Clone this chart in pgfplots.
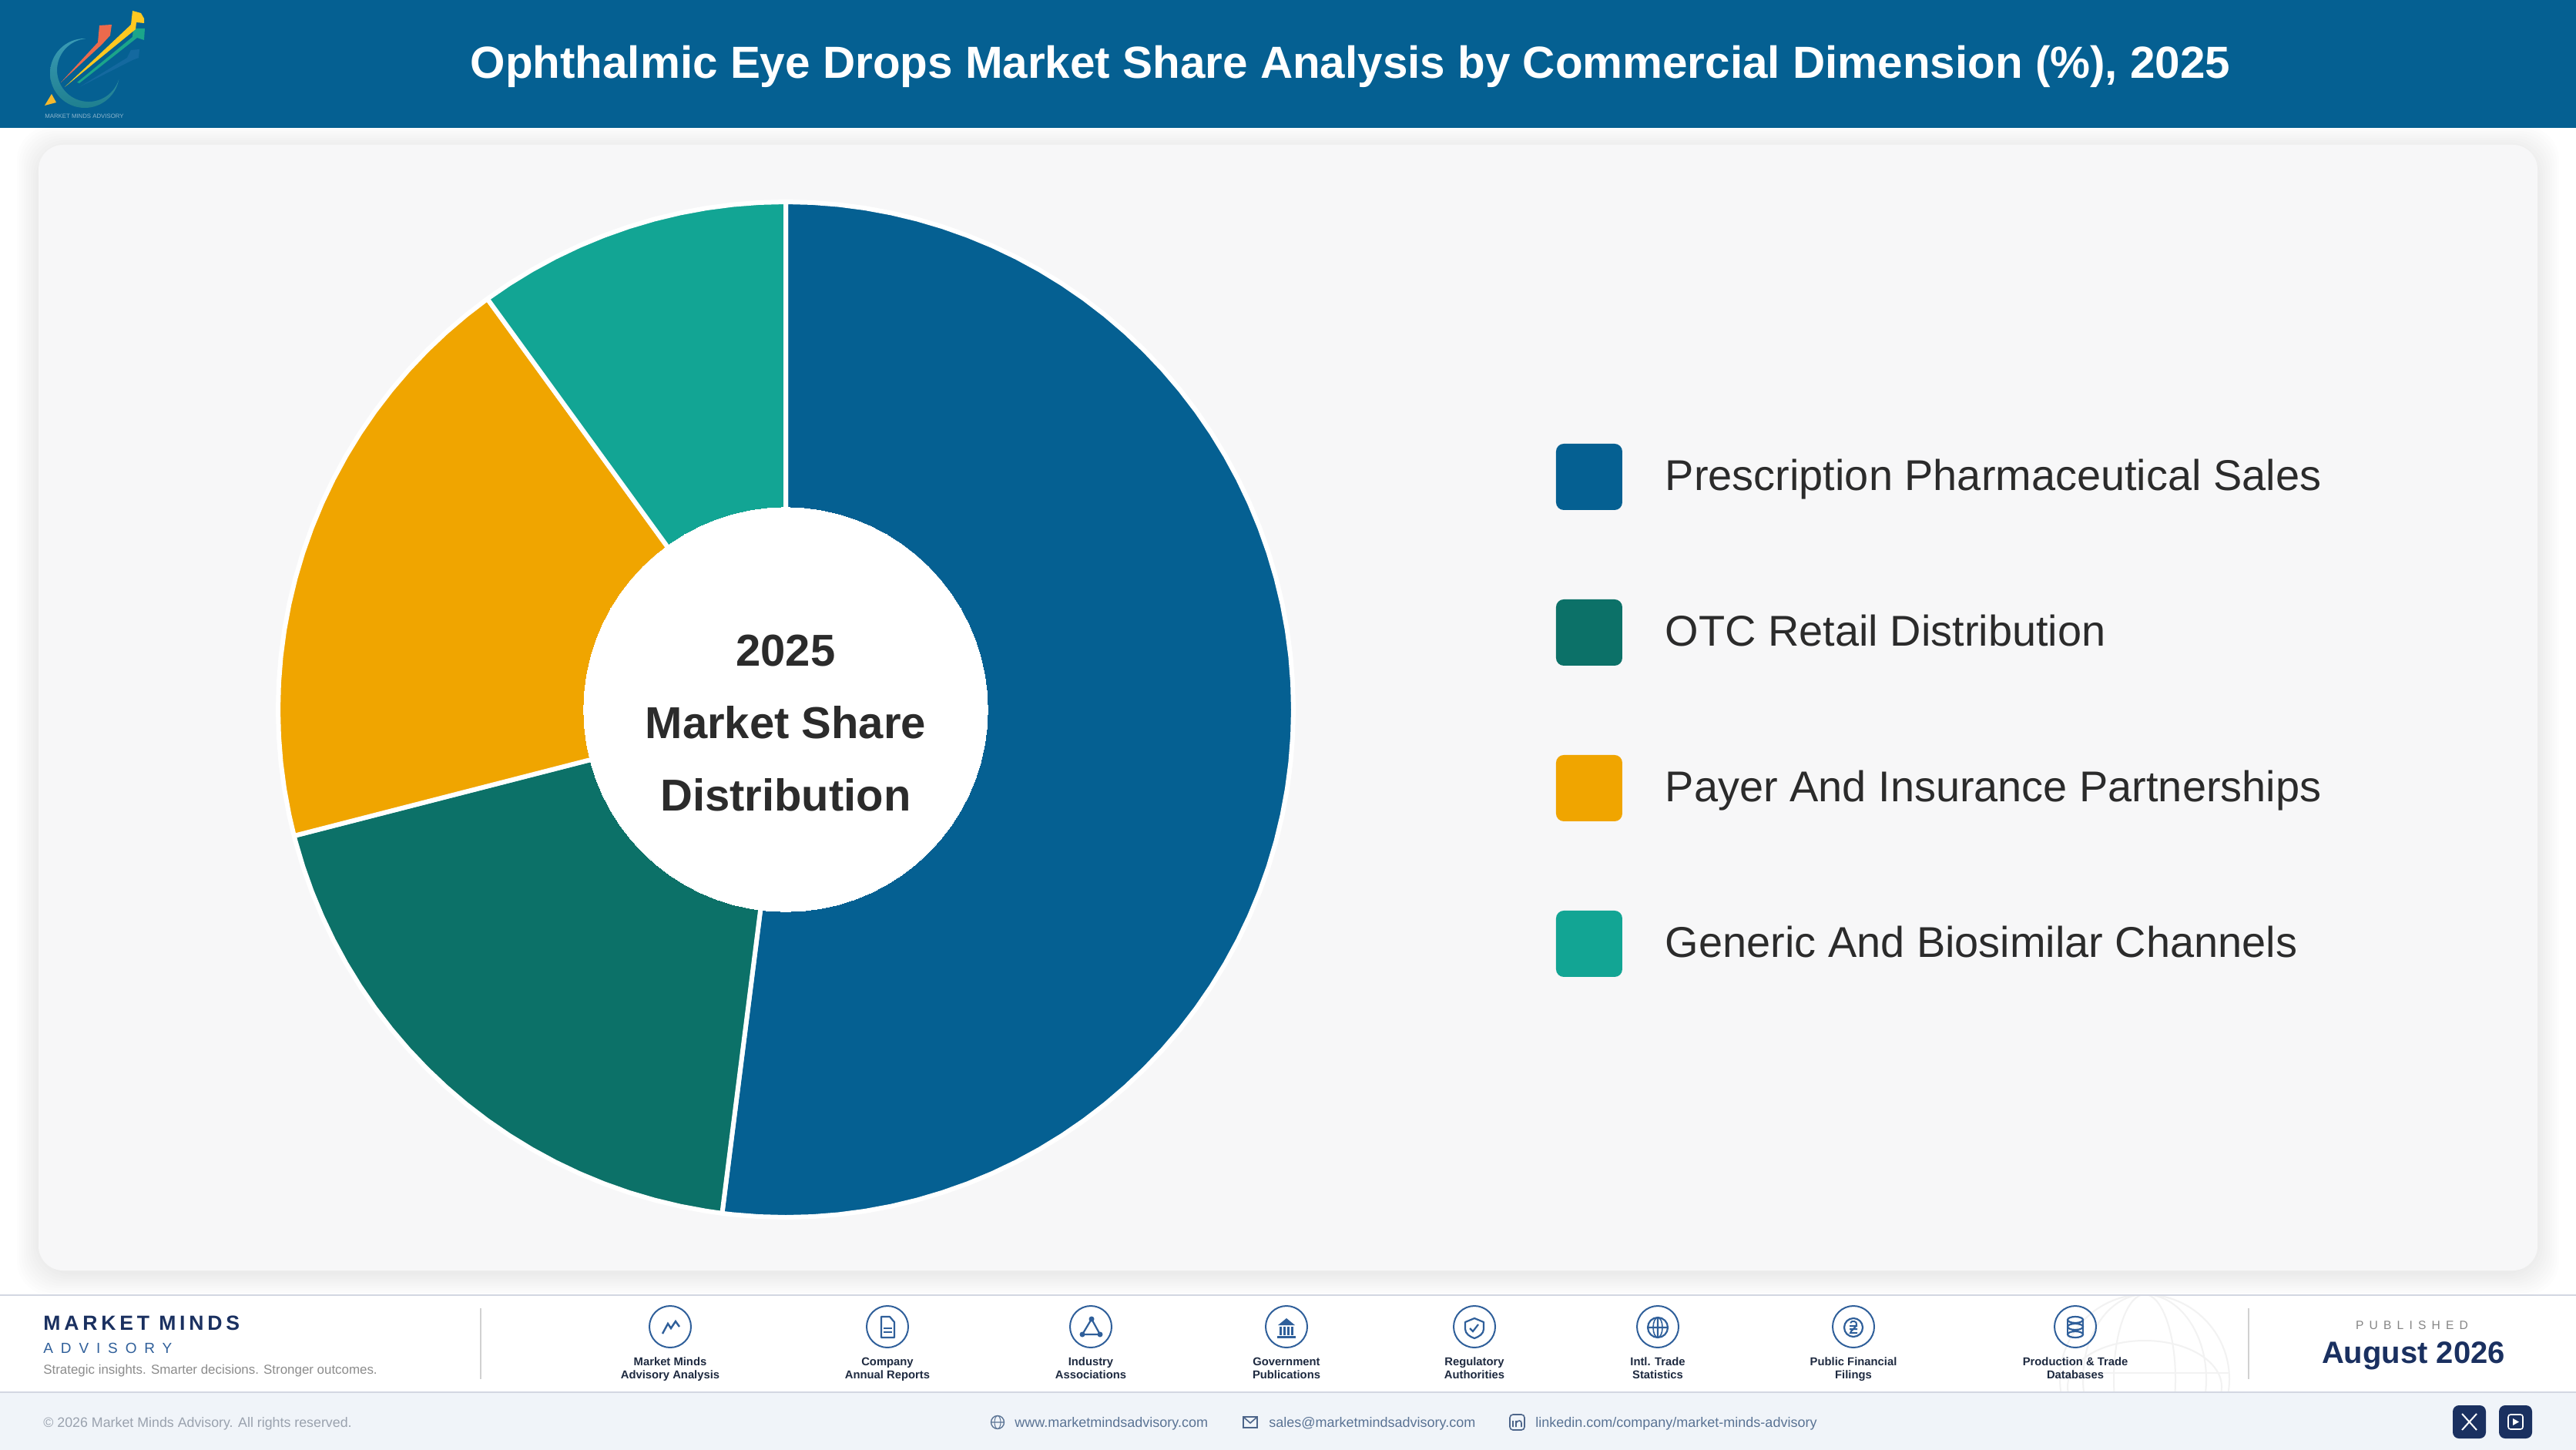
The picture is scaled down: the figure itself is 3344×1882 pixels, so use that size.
\documentclass[border=0pt]{standalone}
\usepackage{fontspec}
\setmainfont{Liberation Sans}
\usepackage{pgfplots}
\pgfplotsset{compat=1.18}
\usepgfplotslibrary{polar}
\newcommand\fs[1]{\fontsize{#1}{#1}\selectfont}
\definecolor{hdr}{HTML}{056092}
\definecolor{cA}{HTML}{056092}
\definecolor{cB}{HTML}{0C7168}
\definecolor{cC}{HTML}{F0A500}
\definecolor{cD}{HTML}{12A594}
\definecolor{card}{HTML}{F7F7F8}
\definecolor{ink}{HTML}{2B2B2B}
\definecolor{navy}{HTML}{1A3060}
\definecolor{ico}{HTML}{2F5F9A}
\definecolor{lab}{HTML}{1E2A40}
\definecolor{rule}{HTML}{D3D7E2}
\definecolor{foot}{HTML}{F0F4F9}
\definecolor{link}{HTML}{5A7394}
\definecolor{grey}{HTML}{9AA2AE}
\definecolor{ringA}{HTML}{3A9BB5}
\definecolor{ringB}{HTML}{1F7F8F}
\definecolor{lgRed}{HTML}{EC6A4C}
\definecolor{lgYel}{HTML}{FFC820}
\definecolor{lgGrn}{HTML}{1BA58A}
\definecolor{lgBlu}{HTML}{14699F}
\definecolor{lgTri}{HTML}{F5B92E}
\pgfplotsset{swatch/.style={legend image code/.code={%
  \path[draw=none,fill=#1,rounded corners=5pt] (0pt,-22pt) rectangle (43pt,21pt);
  \path[draw=none,fill=none] (0pt,0pt) -- (71pt,0pt);}}}
\newcommand\iconring[1]{\draw[ico,line width=1pt] (#1,1722) circle (27);}
\newcommand\iconlabel[3]{%
  \node[anchor=base,inner sep=0,text=lab,font=\bfseries\fs{7.4}] at (#1,1772) {#2};
  \node[anchor=base,inner sep=0,text=lab,font=\bfseries\fs{7.4}] at (#1,1789) {#3};}
\begin{document}
\begin{tikzpicture}[x=0.5pt,y=-0.5pt]
\useasboundingbox (0,0) rectangle (3344,1882);
% header
\fill[hdr] (0,0) rectangle (3344,166);
% logo
\path[top color=ringA,bottom color=ringB,draw=none] (110,50) arc[start angle=270,end angle=10,radius=45] arc[start angle=16.7,end angle=264.4,radius=41] -- cycle;
\fill[lgBlu] (103,113) -- (165,75) -- (170,65) -- (181,64) -- (180,75) -- (172,78) -- cycle;
\fill[lgGrn] (100,107) -- (172,48) -- (173,37) -- (188,37) -- (187,52) -- (178,49) -- (103,108) -- cycle;
\fill[lgYel] (84,113) -- (170,32) -- (172,14) -- (183,17) -- (187,24) -- (187,30) -- (177,29) -- (176,38) -- cycle;
\fill[lgRed] (79,107) -- (127,55) -- (129,33) -- (145,32) -- (143,46) -- (132,58) -- cycle;
\fill[lgTri] (58,137) -- (67,122) -- (73,133) -- cycle;
\node[anchor=base west,inner sep=0,text=white!55!hdr,font=\fs{3.9}] at (58,154) {MARKET MINDS ADVISORY};
\node[anchor=base,inner sep=0,text=white,font=\bfseries\fs{29.2}] at (1753,102) {Ophthalmic Eye Drops Market Share Analysis by Commercial Dimension (\%), 2025};
% card
\foreach \e in {28,25,...,1}{
  \fill[black,opacity=0.007,rounded corners=22pt] (50-\e,188-\e+4) rectangle (3294+\e,1649+\e+4);}
\fill[card,rounded corners=16pt] (50,188) rectangle (3294,1649);
% pie
\begin{polaraxis}[at={(510pt,-460.5pt)},anchor=center,scale only axis,width=659pt,height=659pt,
  ymin=0,ymax=1,hide axis,clip=false,
  legend cell align=left,
  legend style={at={(1.2587,0.7618)},anchor=north west,draw=none,fill=none,inner sep=0pt,outer sep=0pt,
    row sep=58pt,column sep=0pt,nodes={inner sep=0pt,outer sep=0pt},text=ink,font=\fs{27.95}}]
\addplot[swatch=cA,fill=cA,draw=white,line width=3pt,line join=bevel] coordinates {(0,0)
(90,1)(87,1)(84,1)(81,1)(78,1)(75,1)(72,1)(69,1)(66,1)(63,1)(60,1)(57,1)(54,1)(51,1)(48,1)(45,1)(42,1)(39,1)(36,1)(33,1)(30,1)(27,1)(24,1)(21,1)(18,1)(15,1)(12,1)(9,1)(6,1)(3,1)(0,1)
(-3,1)(-6,1)(-9,1)(-12,1)(-15,1)(-18,1)(-21,1)(-24,1)(-27,1)(-30,1)(-33,1)(-36,1)(-39,1)(-42,1)(-45,1)(-48,1)(-51,1)(-54,1)(-57,1)(-60,1)(-63,1)(-66,1)(-69,1)(-72,1)(-75,1)(-78,1)(-81,1)(-84,1)(-87,1)(-90,1)(-93,1)(-96,1)(-97.2,1)} -- cycle;
\addlegendentry{Prescription Pharmaceutical Sales}
\addplot[swatch=cB,fill=cB,draw=white,line width=3pt,line join=bevel] coordinates {(0,0)
(-97.2,1)(-99,1)(-102,1)(-105,1)(-108,1)(-111,1)(-114,1)(-117,1)(-120,1)(-123,1)(-126,1)(-129,1)(-132,1)(-135,1)(-138,1)(-141,1)(-144,1)(-147,1)(-150,1)(-153,1)(-156,1)(-159,1)(-162,1)(-165,1)(-165.6,1)} -- cycle;
\addlegendentry{OTC Retail Distribution}
\addplot[swatch=cC,fill=cC,draw=white,line width=3pt,line join=bevel] coordinates {(0,0)
(-165.6,1)(-168,1)(-171,1)(-174,1)(-177,1)(-180,1)(-183,1)(-186,1)(-189,1)(-192,1)(-195,1)(-198,1)(-201,1)(-204,1)(-207,1)(-210,1)(-213,1)(-216,1)(-219,1)(-222,1)(-225,1)(-228,1)(-231,1)(-234,1)} -- cycle;
\addlegendentry{Payer And Insurance Partnerships}
\addplot[swatch=cD,fill=cD,draw=white,line width=3pt,line join=bevel] coordinates {(0,0)
(-234,1)(-237,1)(-240,1)(-243,1)(-246,1)(-249,1)(-252,1)(-255,1)(-258,1)(-261,1)(-264,1)(-267,1)(-270,1)} -- cycle;
\addlegendentry{Generic And Biosimilar Channels}
\addplot[forget plot,fill=white,draw=white,line width=0pt] coordinates {
(0,0.398)(5,0.398)(10,0.398)(15,0.398)(20,0.398)(25,0.398)(30,0.398)(35,0.398)(40,0.398)(45,0.398)(50,0.398)(55,0.398)(60,0.398)(65,0.398)(70,0.398)(75,0.398)(80,0.398)(85,0.398)(90,0.398)(95,0.398)(100,0.398)(105,0.398)(110,0.398)(115,0.398)(120,0.398)(125,0.398)(130,0.398)(135,0.398)(140,0.398)(145,0.398)(150,0.398)(155,0.398)(160,0.398)(165,0.398)(170,0.398)(175,0.398)(180,0.398)(185,0.398)(190,0.398)(195,0.398)(200,0.398)(205,0.398)(210,0.398)(215,0.398)(220,0.398)(225,0.398)(230,0.398)(235,0.398)(240,0.398)(245,0.398)(250,0.398)(255,0.398)(260,0.398)(265,0.398)(270,0.398)(275,0.398)(280,0.398)(285,0.398)(290,0.398)(295,0.398)(300,0.398)(305,0.398)(310,0.398)(315,0.398)(320,0.398)(325,0.398)(330,0.398)(335,0.398)(340,0.398)(345,0.398)(350,0.398)(355,0.398)} -- cycle;
\end{polaraxis}
% centre text
\node[anchor=base,inner sep=0,text=ink,font=\bfseries\fs{29}] at (1020,864) {2025};
\node[anchor=base,inner sep=0,text=ink,font=\bfseries\fs{29}] at (1020,958) {Market Share};
\node[anchor=base,inner sep=0,text=ink,font=\bfseries\fs{29}] at (1020,1052) {Distribution};
% footer
\fill[white] (0,1681) rectangle (3344,1807);
\fill[foot] (0,1807) rectangle (3344,1882);
\begin{scope}
\clip (0,1682) rectangle (3344,1806);
\draw[black!5,line width=1pt] (2784,1790) circle (110);
\draw[black!5,line width=1pt] (2784,1790) ellipse (40 and 110);
\draw[black!5,line width=1pt] (2784,1790) ellipse (80 and 110);
\draw[black!5,line width=1pt] (2674,1782) -- (2894,1782);
\draw[black!5,line width=1pt] (2784,1800) ellipse (100 and 60);
\end{scope}
\draw[rule,line width=1pt] (0,1681) -- (3344,1681);
\draw[rule,line width=1pt] (0,1807) -- (3344,1807);
\draw[black!18,line width=0.7pt] (624,1698) -- (624,1790);
\draw[black!18,line width=0.7pt] (2919,1698) -- (2919,1790);
\node[anchor=base west,inner sep=0,text=navy,font=\bfseries\fs{13.3}] at (56,1726) {\addfontfeatures{LetterSpace=18}MARKET MINDS};
\node[anchor=base west,inner sep=0,text=ico,font=\fs{9.5}] at (56,1756) {\addfontfeatures{LetterSpace=52}ADVISORY};
\node[anchor=base west,inner sep=0,text=black!45,font=\fs{8.45}] at (56,1783) {Strategic insights. Smarter decisions. Stronger outcomes.};
% source icons
\iconring{870}\iconlabel{870}{Market Minds}{Advisory Analysis}
\draw[ico,line width=1.2pt] (860,1731) -- (867,1718) -- (871,1724) -- (877,1715) -- (882,1722);
\iconring{1152}\iconlabel{1152}{Company}{Annual Reports}
\draw[ico,line width=1.1pt,line join=round] (1144,1709) -- (1155,1709) -- (1161,1716) -- (1161,1736) -- (1144,1736) -- cycle;
\draw[ico,line width=0.8pt] (1147,1724) -- (1158,1724) (1147,1729) -- (1158,1729);
\iconring{1416}\iconlabel{1416}{Industry}{Associations}
\draw[ico,line width=1.1pt] (1417,1712) -- (1405,1732) -- (1428,1732) -- cycle;
\fill[ico] (1417,1712) circle (3.5) (1405,1732) circle (3.5) (1428,1732) circle (3.5);
\iconring{1670}\iconlabel{1670}{Government}{Publications}
\fill[ico] (1670,1711) -- (1681,1720) -- (1659,1720) -- cycle;
\fill[ico] (1658,1734) rectangle (1682,1737);
\foreach \q in {1661,1666,1671,1676}{\fill[ico] (\q,1722) rectangle (\q+3,1733);}
\iconring{1914}\iconlabel{1914}{Regulatory}{Authorities}
\draw[ico,line width=1.1pt,line join=round] (1914,1711) -- (1926,1716) -- (1926,1725) .. controls (1926,1731) and (1920,1735) .. (1914,1737) .. controls (1908,1735) and (1902,1731) .. (1902,1725) -- (1902,1716) -- cycle;
\draw[ico,line width=1.1pt] (1908,1724) -- (1912,1728) -- (1919,1719);
\iconring{2152}\iconlabel{2152}{Intl. Trade}{Statistics}
\draw[ico,line width=1.1pt] (2152,1723) circle (13) (2139,1723) -- (2165,1723) (2152,1710) -- (2152,1736);
\draw[ico,line width=0.8pt] (2152,1723) ellipse (6 and 13);
\iconring{2406}\iconlabel{2406}{Public Financial}{Filings}
\draw[ico,line width=1.1pt] (2406,1723) circle (12);
\draw[ico,line width=1pt] (2402,1717) .. controls (2404,1713) and (2411,1715) .. (2410,1719) .. controls (2409,1724) and (2402,1727) .. (2402,1730) -- (2411,1730) (2401,1721) -- (2411,1721) (2401,1725) -- (2411,1725);
\iconring{2694}\iconlabel{2694}{Production \& Trade}{Databases}
\draw[ico,line width=1.1pt] (2694,1713) ellipse (10 and 4) (2694,1722) ellipse (10 and 4) (2694,1732) ellipse (10 and 4);
\draw[ico,line width=1.1pt] (2684,1713) -- (2684,1732) (2704,1713) -- (2704,1732);
% published
\node[anchor=base,inner sep=0,text=black!48,font=\fs{7.8}] at (3131,1725) {\addfontfeatures{LetterSpace=46}PUBLISHED};
\node[anchor=base,inner sep=0,text=navy,font=\bfseries\fs{20}] at (3133,1769) {August 2026};
% bottom strip
\node[anchor=base west,inner sep=0,text=grey,font=\fs{8.9}] at (56,1852) {\textcopyright{} 2026 Market Minds Advisory. All rights reserved.};
\draw[link,line width=0.7pt] (1295,1846) circle (8.5) (1286.5,1846) -- (1303.5,1846);
\draw[link,line width=0.5pt] (1295,1846) ellipse (4 and 8.5);
\node[anchor=base west,inner sep=0,text=link,font=\fs{9}] at (1317,1852) {www.marketmindsadvisory.com};
\draw[link!80!navy,line width=0.8pt] (1614,1839) rectangle (1632,1853) (1614,1839) -- (1623,1847) -- (1632,1839);
\node[anchor=base west,inner sep=0,text=link,font=\fs{9}] at (1647,1852) {sales@marketmindsadvisory.com};
\draw[link!80!navy,line width=0.8pt,rounded corners=2pt] (1960,1836) rectangle (1979,1856);
\draw[link!80!navy,line width=0.8pt] (1964,1844) -- (1964,1852) (1968,1852) -- (1968,1844) (1968,1847) .. controls (1970,1843) and (1975,1843) .. (1975,1847) -- (1975,1852);
\node[anchor=base west,inner sep=0,text=link,font=\fs{9}] at (1993,1852) {linkedin.com/company/market-minds-advisory};
\fill[navy,rounded corners=4pt] (3184,1824) rectangle (3227,1867);
\draw[white,line width=1pt] (3196,1835) -- (3215,1856) (3215,1835) -- (3196,1856);
\fill[navy,rounded corners=4pt] (3244,1824) rectangle (3287,1867);
\draw[white,line width=0.8pt,rounded corners=1.5pt] (3256,1836) rectangle (3275,1855);
\fill[white] (3262,1841) -- (3270,1845.5) -- (3262,1850) -- cycle;
\end{tikzpicture}
\end{document}
